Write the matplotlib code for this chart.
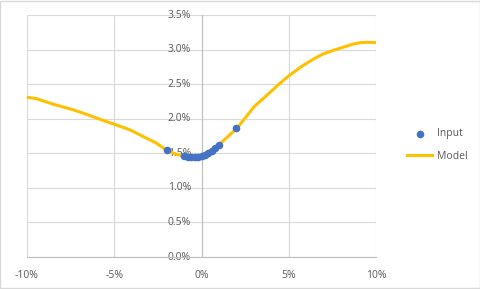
import numpy as np
import matplotlib.pyplot as plt
from matplotlib.ticker import FuncFormatter

# Dados (em %)
model_x = [-10, -9.45, -8.5, -7.5, -6.77, -5.8, -5, -4.1, -3.33, -2.6, -2.03, -1.6, -1.2, -0.9, -0.65,
           -0.3, 0, 0.5, 1.03, 1.5, 2.03, 2.5, 3.0, 3.75, 4.4, 5.0, 5.7, 6.4, 7.0, 7.57, 8.2, 8.7, 9.1, 9.5, 10]
model_y = [2.31, 2.29, 2.21, 2.14, 2.08, 1.99, 1.92, 1.84, 1.74, 1.65, 1.55, 1.50, 1.47, 1.45, 1.44,
           1.45, 1.47, 1.54, 1.63, 1.74, 1.86, 2.01, 2.17, 2.34, 2.49, 2.62, 2.75, 2.86, 2.94, 2.99, 3.04, 3.08, 3.10, 3.105, 3.10]

input_x = [-2.0, -1.0, -0.8, -0.6, -0.4, -0.2, 0.0, 0.2, 0.4, 0.6, 0.8, 1.0, 2.0]
input_y = [1.55, 1.455, 1.445, 1.44, 1.44, 1.45, 1.46, 1.475, 1.50, 1.535, 1.58, 1.62, 1.86]

xticks = [-10, -5, 0, 5, 10]
yticks = [0, 0.5, 1.0, 1.5, 2.0, 2.5, 3.0, 3.5]

plt.rcParams['font.family'] = ['Open Sans', 'DejaVu Sans']

fig = plt.figure(figsize=(4.81, 2.89), dpi=100)
fig.patches.append(plt.Rectangle((0.001, 0.002), 0.997, 0.995, transform=fig.transFigure,
                                 fill=False, edgecolor='#d9d9d9', linewidth=1))
ax = fig.add_axes([27 / 481, 1 - 257 / 289, (376 - 27) / 481, (257 - 15) / 289])

gc = '#d9d9d9'
ax.plot(model_x, model_y, color='#FFC000', linewidth=2.2, label='Model', zorder=3)
ax.scatter(input_x, input_y, s=30, color='#4472C4', label='Input', zorder=4, linewidths=0)

ax.set_xlim(-10, 10)
ax.set_ylim(0, 3.5)
ax.set_xticks(xticks)
ax.set_yticks(yticks)
ax.grid(True, color=gc, linewidth=0.8)
ax.set_axisbelow(True)

for s in ['top', 'right', 'left']:
    ax.spines[s].set_visible(False)
ax.spines['bottom'].set_color('#bfbfbf')
ax.axvline(0, color='#bfbfbf', linewidth=0.8, zorder=1)

fmt = FuncFormatter(lambda v, p: f'{v:.0f}%')
ax.xaxis.set_major_formatter(fmt)
ax.tick_params(axis='x', length=0, pad=9, labelsize=7.5, colors='#595959')
ax.tick_params(axis='y', length=0, labelleft=False)

for v in yticks:
    ax.text(-0.6, v, f'{v:.1f}%', ha='right', va='center', fontsize=7.5, color='#595959',
            transform=ax.transData, zorder=2)

handles, labels = ax.get_legend_handles_labels()
leg = fig.legend([handles[1], handles[0]], [labels[1], labels[0]], loc='center left',
                 bbox_to_anchor=(398 / 481, 1 - 145 / 289), frameon=False, fontsize=7.5,
                 handlelength=2.4, labelspacing=1.1, handletextpad=0.4)
for t in leg.get_texts():
    t.set_color('#595959')

fig.savefig('out.png', dpi=100)
